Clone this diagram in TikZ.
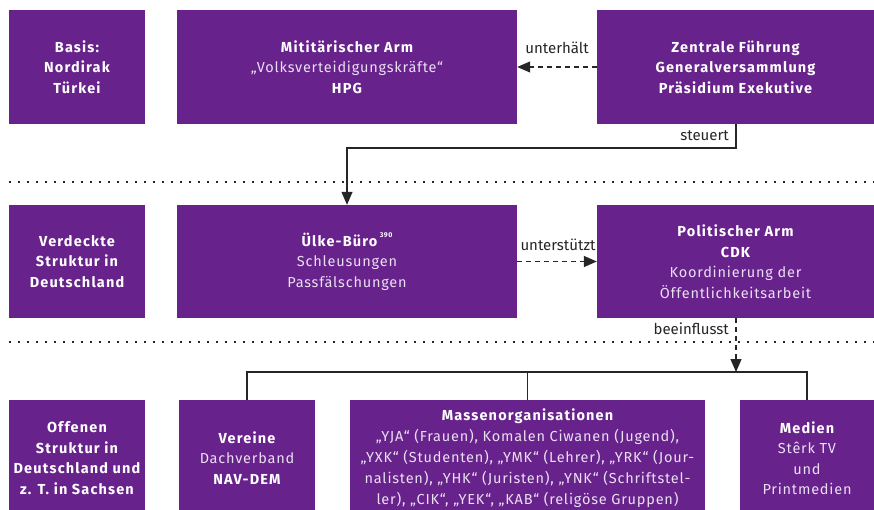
\documentclass[tikz,border=0pt]{standalone}
\usepackage{fontspec}
\setmainfont{Fira Sans}[LetterSpace=5.5,BoldFeatures={LetterSpace=8}]
\newfontfamily\lblfont{Fira Sans}
\usetikzlibrary{arrows.meta}
\definecolor{pkk}{HTML}{68228B}
\definecolor{lav}{HTML}{EADFF2}
\definecolor{ln}{HTML}{262626}
\newcommand\bt[1]{\textcolor{white}{\bfseries #1}}
\begin{document}
\begin{tikzpicture}[x=1pt,y=-1pt,
  box/.style={fill=pkk, inner sep=0pt, align=center, text=lav,
    font=\fontsize{14.5}{20.5}\selectfont},
  lbl/.style={inner sep=0pt, text=ln, font=\lblfont\fontsize{15}{17}\selectfont},
  conn/.style={draw=ln, line width=1.2pt},
  arr/.style={conn, -{Triangle[length=13pt,width=11pt]}},
  dasharr/.style={arr, dash pattern=on 5pt off 4pt},
  dotline/.style={draw=ln, line width=2.2pt, dash pattern=on 2.2pt off 6.8pt}]
\useasboundingbox (0,0) rectangle (874,510);
% row 1
\node[box, minimum width=136, minimum height=114] (basis) at (77,67)
  {\bt{Basis:}\\\bt{Nordirak}\\\bt{Türkei}};
\node[box, minimum width=340, minimum height=114] (mil) at (347,67)
  {\bt{Mititärischer Arm}\\„Volksverteidigungskräfte“\\\bt{HPG}};
\node[box, minimum width=277, minimum height=114] (zf) at (735.5,67)
  {\bt{Zentrale Führung}\\\bt{Generalversammlung}\\\bt{Präsidium Exekutive}};
% row 2
\node[box, minimum width=136, minimum height=113] (verd) at (77,261.5)
  {\bt{Verdeckte}\\\bt{Struktur in}\\\bt{Deutschland}};
\node[box, minimum width=340, minimum height=113] (uel) at (347,261.5)
  {\bt{Ülke-Büro}\,\raisebox{9pt}{\textcolor{white}{\fontsize{7}{7}\selectfont\bfseries 390}}\\Schleusungen\\Passfälschungen};
\node[box, minimum width=277, minimum height=113] (pol) at (735.5,261.5)
  {\bt{Politischer Arm}\\\bt{CDK}\\Koordinierung der\\Öffentlichkeitsarbeit};
% row 3
\node[box, minimum width=136, minimum height=116] (off) at (77,458)
  {\bt{Offenen}\\\bt{Struktur in}\\\bt{Deutschland und}\\\bt{z. T. in Sachsen}};
\node[box, minimum width=136, minimum height=116] (ver) at (247,458)
  {\bt{Vereine}\\Dachverband\\\bt{NAV-DEM}};
\node[box, minimum width=355, minimum height=116, font=\fontsize{14.5}{21}\selectfont] (mas) at (527.5,458)
  {\bt{Massenorganisationen}\\„YJA“ (Frauen), Komalen Ciwanen (Jugend),\\„YXK“ (Studenten), „YMK“ (Lehrer), „YRK“ (Jour-\\nalisten), „YHK“ (Juristen), „YNK“ (Schriftstel-\\ler), „CIK“, „YEK“, „KAB“ (religöse Gruppen)};
\node[box, minimum width=134, minimum height=116] (med) at (807,458)
  {\bt{Medien}\\Stêrk TV\\und\\Printmedien};
% dotted separators
\coordinate (d1a) at (9,182); \coordinate (d1b) at (874,182);
\coordinate (d2a) at (9,342); \coordinate (d2b) at (874,342);
\draw[dotline] (d1a) -- (d1b);
\draw[dotline] (d2a) -- (d2b);
% connectors
\draw[dasharr] (zf.west) -- (mil.east);
\node[lbl] (lunt) at (557,48) {unterhält};
\coordinate (st) at (736,148);
\draw[arr] (zf.south -| st) -- (st) -| (uel.north);
\node[lbl, anchor=east] (lste) at (729,136) {steuert};
\draw[dasharr] (uel.east) -- (pol.west);
\node[lbl] (lus) at (558,245) {unterstützt};
\coordinate (br) at (736,372);
\draw[dasharr] (pol.south -| br) -- (br);
\node[lbl, anchor=east] (lbe) at (729,329) {beeinflusst};
\draw[conn] (ver.north) -- (ver.north |- br) -- (med.north |- br) -- (med.north);
\draw[conn] (mas.north) -- (mas.north |- br);
\end{tikzpicture}
\end{document}
